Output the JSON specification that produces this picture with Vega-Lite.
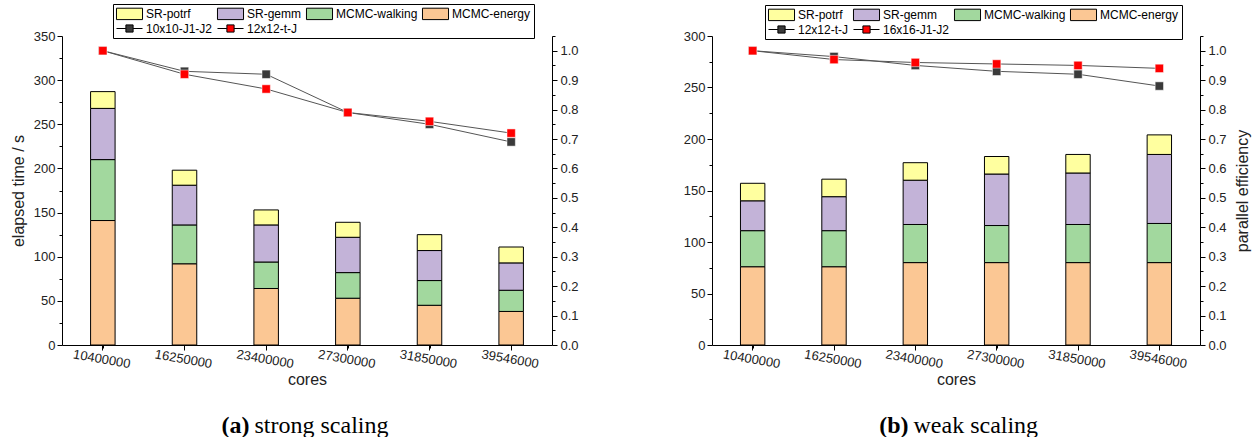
{
  "$schema": "https://vega.github.io/schema/vega-lite/v6.json",
  "padding": {"left": 10, "top": 3, "right": 5, "bottom": 0},
  "config": {
    "font": "Liberation Sans",
    "view": {"stroke": null},
    "axis": {
      "grid": false,
      "domainColor": "#000",
      "tickColor": "#000",
      "labelColor": "#222",
      "titleColor": "#222",
      "labelFont": "Liberation Sans",
      "titleFont": "Liberation Sans",
      "labelFontSize": 13,
      "titleFontSize": 16,
      "titleFontWeight": "normal",
      "tickSize": 5
    },
    "legend": {
      "orient": "none", "direction": "horizontal", "columns": 4, "title": null,
      "labelFontSize": 12, "labelFont": "Liberation Sans", "labelColor": "#000", "symbolSize": 144, "symbolOffset": 7, "labelOffset": 10,
      "columnPadding": 2, "rowPadding": 0, "padding": 3, "strokeColor": "#000", "fillColor": "#fff", "symbolOpacity": 1,
      "symbolStrokeColor": "#000", "symbolStrokeWidth": 1
    }
  },
  "datasets": {
    "strongBars": [
      {"cores": "10400000", "comp": "MCMC-energy", "t": 141},
      {"cores": "10400000", "comp": "MCMC-walking", "t": 69},
      {"cores": "10400000", "comp": "SR-gemm", "t": 58},
      {"cores": "10400000", "comp": "SR-potrf", "t": 19},
      {"cores": "16250000", "comp": "MCMC-energy", "t": 92},
      {"cores": "16250000", "comp": "MCMC-walking", "t": 44},
      {"cores": "16250000", "comp": "SR-gemm", "t": 45},
      {"cores": "16250000", "comp": "SR-potrf", "t": 17},
      {"cores": "23400000", "comp": "MCMC-energy", "t": 64},
      {"cores": "23400000", "comp": "MCMC-walking", "t": 30},
      {"cores": "23400000", "comp": "SR-gemm", "t": 42},
      {"cores": "23400000", "comp": "SR-potrf", "t": 17},
      {"cores": "27300000", "comp": "MCMC-energy", "t": 53},
      {"cores": "27300000", "comp": "MCMC-walking", "t": 29},
      {"cores": "27300000", "comp": "SR-gemm", "t": 40},
      {"cores": "27300000", "comp": "SR-potrf", "t": 17},
      {"cores": "31850000", "comp": "MCMC-energy", "t": 45},
      {"cores": "31850000", "comp": "MCMC-walking", "t": 28},
      {"cores": "31850000", "comp": "SR-gemm", "t": 34},
      {"cores": "31850000", "comp": "SR-potrf", "t": 18},
      {"cores": "39546000", "comp": "MCMC-energy", "t": 38},
      {"cores": "39546000", "comp": "MCMC-walking", "t": 24},
      {"cores": "39546000", "comp": "SR-gemm", "t": 31},
      {"cores": "39546000", "comp": "SR-potrf", "t": 18}
    ],
    "strongEff": [
      {"cores": "10400000", "series": "10x10-J1-J2", "eff": 1.0},
      {"cores": "16250000", "series": "10x10-J1-J2", "eff": 0.93},
      {"cores": "23400000", "series": "10x10-J1-J2", "eff": 0.92},
      {"cores": "27300000", "series": "10x10-J1-J2", "eff": 0.79},
      {"cores": "31850000", "series": "10x10-J1-J2", "eff": 0.75},
      {"cores": "39546000", "series": "10x10-J1-J2", "eff": 0.69},
      {"cores": "10400000", "series": "12x12-t-J", "eff": 1.0},
      {"cores": "16250000", "series": "12x12-t-J", "eff": 0.92},
      {"cores": "23400000", "series": "12x12-t-J", "eff": 0.87},
      {"cores": "27300000", "series": "12x12-t-J", "eff": 0.79},
      {"cores": "31850000", "series": "12x12-t-J", "eff": 0.76},
      {"cores": "39546000", "series": "12x12-t-J", "eff": 0.72}
    ],
    "weakBars": [
      {"cores": "10400000", "comp": "MCMC-energy", "t": 76},
      {"cores": "10400000", "comp": "MCMC-walking", "t": 35},
      {"cores": "10400000", "comp": "SR-gemm", "t": 29},
      {"cores": "10400000", "comp": "SR-potrf", "t": 17},
      {"cores": "16250000", "comp": "MCMC-energy", "t": 76},
      {"cores": "16250000", "comp": "MCMC-walking", "t": 35},
      {"cores": "16250000", "comp": "SR-gemm", "t": 33},
      {"cores": "16250000", "comp": "SR-potrf", "t": 17},
      {"cores": "23400000", "comp": "MCMC-energy", "t": 80},
      {"cores": "23400000", "comp": "MCMC-walking", "t": 37},
      {"cores": "23400000", "comp": "SR-gemm", "t": 43},
      {"cores": "23400000", "comp": "SR-potrf", "t": 17},
      {"cores": "27300000", "comp": "MCMC-energy", "t": 80},
      {"cores": "27300000", "comp": "MCMC-walking", "t": 36},
      {"cores": "27300000", "comp": "SR-gemm", "t": 50},
      {"cores": "27300000", "comp": "SR-potrf", "t": 17},
      {"cores": "31850000", "comp": "MCMC-energy", "t": 80},
      {"cores": "31850000", "comp": "MCMC-walking", "t": 37},
      {"cores": "31850000", "comp": "SR-gemm", "t": 50},
      {"cores": "31850000", "comp": "SR-potrf", "t": 18},
      {"cores": "39546000", "comp": "MCMC-energy", "t": 80},
      {"cores": "39546000", "comp": "MCMC-walking", "t": 38},
      {"cores": "39546000", "comp": "SR-gemm", "t": 67},
      {"cores": "39546000", "comp": "SR-potrf", "t": 19}
    ],
    "weakEff": [
      {"cores": "10400000", "series": "12x12-t-J", "eff": 1.0},
      {"cores": "16250000", "series": "12x12-t-J", "eff": 0.98},
      {"cores": "23400000", "series": "12x12-t-J", "eff": 0.95},
      {"cores": "27300000", "series": "12x12-t-J", "eff": 0.93},
      {"cores": "31850000", "series": "12x12-t-J", "eff": 0.92},
      {"cores": "39546000", "series": "12x12-t-J", "eff": 0.88},
      {"cores": "10400000", "series": "16x16-J1-J2", "eff": 1.0},
      {"cores": "16250000", "series": "16x16-J1-J2", "eff": 0.97},
      {"cores": "23400000", "series": "16x16-J1-J2", "eff": 0.96},
      {"cores": "27300000", "series": "16x16-J1-J2", "eff": 0.955},
      {"cores": "31850000", "series": "16x16-J1-J2", "eff": 0.95},
      {"cores": "39546000", "series": "16x16-J1-J2", "eff": 0.94}
    ]
  },
  "spacing": 104,
  "resolve": {"scale": {"color": "independent"}, "legend": {"color": "independent"}},
  "hconcat": [
    {
      "width": 490,
      "height": 309,
      "resolve": {"scale": {"x": "independent", "y": "independent"}},
      "layer": [
        {
          "data": {"name": "strongBars"},
          "mark": {"type": "bar", "stroke": "#000", "strokeWidth": 1},
          "encoding": {
            "x": {"field": "cores", "type": "ordinal", "scale": {"paddingInner": 0.7, "paddingOuter": 0.35},
              "axis": {"title": "cores", "labelAngle": 10, "labelAlign": "center", "labelBaseline": "top", "labelPadding": 3, "titlePadding": 1}},
            "y": {"field": "t", "type": "quantitative", "stack": "zero", "scale": {"domain": [0, 350], "nice": false},
              "axis": {"title": "elapsed time / s", "orient": "left", "values": [0, 50, 100, 150, 200, 250, 300, 350], "labelPadding": 2, "titlePadding": 7}},
            "order": {"field": "comp", "type": "nominal", "sort": "ascending"},
            "color": {"field": "comp", "type": "nominal",
              "scale": {"domain": ["SR-potrf", "SR-gemm", "MCMC-walking", "MCMC-energy", "10x10-J1-J2", "12x12-t-J"],
                        "range": ["#FFFF9F", "#C3B3D8", "#A2D89E", "#FBC794", "#3A3A3A", "#FF0000"]},
              "legend": {"legendX": 51, "legendY": -32,
                "encode": {"symbols": {
                  "enter": {"shape": {"signal": "indexof(['10x10-J1-J2','12x12-t-J','16x16-J1-J2'], datum.value) >= 0 ? 'M-2.17,0H-0.6M0.6,0H2.17M-0.6,-0.6H0.6V0.6H-0.6Z' : 'M-2.17,-0.95H2.17V0.95H-2.17Z'"}},
                  "update": {"shape": {"signal": "indexof(['10x10-J1-J2','12x12-t-J','16x16-J1-J2'], datum.value) >= 0 ? 'M-2.17,0H-0.6M0.6,0H2.17M-0.6,-0.6H0.6V0.6H-0.6Z' : 'M-2.17,-0.95H2.17V0.95H-2.17Z'"},
                    "stroke": {"value": "#000"}, "strokeWidth": {"value": 1}, "opacity": {"value": 1}}}}}}
          }
        },
        {
          "data": {"name": "strongEff"},
          "mark": {"type": "line", "color": "#555", "strokeWidth": 1},
          "encoding": {
            "x": {"field": "cores", "type": "ordinal", "scale": {"paddingInner": 0.7, "paddingOuter": 0.35},
              "axis": {"orient": "bottom", "labels": false, "domain": false, "ticks": true, "tickSize": 3, "bandPosition": 2.1667,
                "title": "(a)", "titleFont": "Liberation Serif", "titleFontSize": 24, "titleFontWeight": "bold", "titleColor": "#000",
                "titleX": 187, "titleY": 87, "titleAlign": "right", "titleBaseline": "alphabetic"}},
            "y": {"field": "eff", "type": "quantitative", "scale": {"domain": [0, 1.05], "nice": false},
              "axis": {"orient": "right", "values": [0.05, 0.15, 0.25, 0.35, 0.45, 0.55, 0.65, 0.75, 0.85, 0.95, 1.05], "labels": false, "domain": false, "tickSize": 3, "title": null}},
            "detail": {"field": "series", "type": "nominal"}
          }
        },
        {
          "data": {"name": "strongEff"},
          "mark": {"type": "point", "shape": "square", "filled": true, "size": 70, "opacity": 1, "stroke": "#fff", "strokeWidth": 0.5},
          "encoding": {
            "x": {"field": "cores", "type": "ordinal", "scale": {"paddingInner": 0.7, "paddingOuter": 0.35},
              "axis": {"orient": "bottom", "labels": false, "domain": false, "ticks": false,
                "title": "strong scaling", "titleFont": "Liberation Serif", "titleFontSize": 24, "titleFontWeight": "normal", "titleColor": "#000",
                "titleX": 192, "titleY": 87, "titleAlign": "left", "titleBaseline": "alphabetic"}},
            "y": {"field": "eff", "type": "quantitative", "scale": {"domain": [0, 1.05], "nice": false},
              "axis": {"orient": "right", "values": [0, 0.1, 0.2, 0.3, 0.4, 0.5, 0.6, 0.7, 0.8, 0.9, 1.0], "format": ".1f", "labelPadding": 3, "title": null}},
            "color": {"field": "series", "type": "nominal",
              "legend": {"legendX": 51, "legendY": -32,
                "encode": {"symbols": {
                  "enter": {"shape": {"signal": "indexof(['10x10-J1-J2','12x12-t-J','16x16-J1-J2'], datum.value) >= 0 ? 'M-2.17,0H-0.6M0.6,0H2.17M-0.6,-0.6H0.6V0.6H-0.6Z' : 'M-2.17,-0.95H2.17V0.95H-2.17Z'"}},
                  "update": {"shape": {"signal": "indexof(['10x10-J1-J2','12x12-t-J','16x16-J1-J2'], datum.value) >= 0 ? 'M-2.17,0H-0.6M0.6,0H2.17M-0.6,-0.6H0.6V0.6H-0.6Z' : 'M-2.17,-0.95H2.17V0.95H-2.17Z'"},
                    "stroke": {"value": "#000"}, "strokeWidth": {"value": 1}, "opacity": {"value": 1}}}}}}
          }
        },
        {
          "data": {"name": "strongBars"},
          "mark": {"type": "bar", "opacity": 0},
          "encoding": {
            "x": {"field": "cores", "type": "ordinal", "scale": {"paddingInner": 0.7, "paddingOuter": 0.35}, "axis": null},
            "y": {"field": "t", "type": "quantitative", "stack": "zero", "scale": {"domain": [0, 350], "nice": false},
              "axis": {"orient": "left", "values": [25, 75, 125, 175, 225, 275, 325], "labels": false, "domain": false, "tickSize": 3, "title": null}}
          }
        }
      ]
    },
    {
      "width": 488,
      "height": 309,
      "resolve": {"scale": {"x": "independent", "y": "independent"}},
      "layer": [
        {
          "data": {"name": "weakBars"},
          "mark": {"type": "bar", "stroke": "#000", "strokeWidth": 1},
          "encoding": {
            "x": {"field": "cores", "type": "ordinal", "scale": {"paddingInner": 0.7, "paddingOuter": 0.35},
              "axis": {"title": "cores", "labelAngle": 10, "labelAlign": "center", "labelBaseline": "top", "labelPadding": 3, "titlePadding": 1}},
            "y": {"field": "t", "type": "quantitative", "stack": "zero", "scale": {"domain": [0, 300], "nice": false},
              "axis": {"title": null, "orient": "left", "values": [0, 50, 100, 150, 200, 250, 300], "labelPadding": 2}},
            "order": {"field": "comp", "type": "nominal", "sort": "ascending"},
            "color": {"field": "comp", "type": "nominal",
              "scale": {"domain": ["SR-potrf", "SR-gemm", "MCMC-walking", "MCMC-energy", "12x12-t-J", "16x16-J1-J2"],
                        "range": ["#FFFF9F", "#C3B3D8", "#A2D89E", "#FBC794", "#3A3A3A", "#FF0000"]},
              "legend": {"legendX": 53, "legendY": -31,
                "encode": {"symbols": {
                  "enter": {"shape": {"signal": "indexof(['10x10-J1-J2','12x12-t-J','16x16-J1-J2'], datum.value) >= 0 ? 'M-2.17,0H-0.6M0.6,0H2.17M-0.6,-0.6H0.6V0.6H-0.6Z' : 'M-2.17,-0.95H2.17V0.95H-2.17Z'"}},
                  "update": {"shape": {"signal": "indexof(['10x10-J1-J2','12x12-t-J','16x16-J1-J2'], datum.value) >= 0 ? 'M-2.17,0H-0.6M0.6,0H2.17M-0.6,-0.6H0.6V0.6H-0.6Z' : 'M-2.17,-0.95H2.17V0.95H-2.17Z'"},
                    "stroke": {"value": "#000"}, "strokeWidth": {"value": 1}, "opacity": {"value": 1}}}}}}
          }
        },
        {
          "data": {"name": "weakEff"},
          "mark": {"type": "line", "color": "#555", "strokeWidth": 1},
          "encoding": {
            "x": {"field": "cores", "type": "ordinal", "scale": {"paddingInner": 0.7, "paddingOuter": 0.35},
              "axis": {"orient": "bottom", "labels": false, "domain": false, "ticks": true, "tickSize": 3, "bandPosition": 2.1667,
                "title": "(b)", "titleFont": "Liberation Serif", "titleFontSize": 24, "titleFontWeight": "bold", "titleColor": "#000",
                "titleX": 196, "titleY": 87, "titleAlign": "right", "titleBaseline": "alphabetic"}},
            "y": {"field": "eff", "type": "quantitative", "scale": {"domain": [0, 1.05], "nice": false},
              "axis": {"orient": "right", "values": [0.05, 0.15, 0.25, 0.35, 0.45, 0.55, 0.65, 0.75, 0.85, 0.95, 1.05], "labels": false, "domain": false, "tickSize": 3, "title": null}},
            "detail": {"field": "series", "type": "nominal"}
          }
        },
        {
          "data": {"name": "weakEff"},
          "mark": {"type": "point", "shape": "square", "filled": true, "size": 70, "opacity": 1, "stroke": "#fff", "strokeWidth": 0.5},
          "encoding": {
            "x": {"field": "cores", "type": "ordinal", "scale": {"paddingInner": 0.7, "paddingOuter": 0.35},
              "axis": {"orient": "bottom", "labels": false, "domain": false, "ticks": false,
                "title": "weak scaling", "titleFont": "Liberation Serif", "titleFontSize": 24, "titleFontWeight": "normal", "titleColor": "#000",
                "titleX": 201, "titleY": 87, "titleAlign": "left", "titleBaseline": "alphabetic"}},
            "y": {"field": "eff", "type": "quantitative", "scale": {"domain": [0, 1.05], "nice": false},
              "axis": {"orient": "right", "values": [0, 0.1, 0.2, 0.3, 0.4, 0.5, 0.6, 0.7, 0.8, 0.9, 1.0], "format": ".1f", "labelPadding": 3,
                "title": "parallel efficiency", "titleAngle": 270, "titleBaseline": "top", "titlePadding": 8}},
            "color": {"field": "series", "type": "nominal",
              "legend": {"legendX": 53, "legendY": -31,
                "encode": {"symbols": {
                  "enter": {"shape": {"signal": "indexof(['10x10-J1-J2','12x12-t-J','16x16-J1-J2'], datum.value) >= 0 ? 'M-2.17,0H-0.6M0.6,0H2.17M-0.6,-0.6H0.6V0.6H-0.6Z' : 'M-2.17,-0.95H2.17V0.95H-2.17Z'"}},
                  "update": {"shape": {"signal": "indexof(['10x10-J1-J2','12x12-t-J','16x16-J1-J2'], datum.value) >= 0 ? 'M-2.17,0H-0.6M0.6,0H2.17M-0.6,-0.6H0.6V0.6H-0.6Z' : 'M-2.17,-0.95H2.17V0.95H-2.17Z'"},
                    "stroke": {"value": "#000"}, "strokeWidth": {"value": 1}, "opacity": {"value": 1}}}}}}
          }
        },
        {
          "data": {"name": "weakBars"},
          "mark": {"type": "bar", "opacity": 0},
          "encoding": {
            "x": {"field": "cores", "type": "ordinal", "scale": {"paddingInner": 0.7, "paddingOuter": 0.35}, "axis": null},
            "y": {"field": "t", "type": "quantitative", "stack": "zero", "scale": {"domain": [0, 300], "nice": false},
              "axis": {"orient": "left", "values": [25, 75, 125, 175, 225, 275], "labels": false, "domain": false, "tickSize": 3, "title": null}}
          }
        }
      ]
    }
  ]
}
